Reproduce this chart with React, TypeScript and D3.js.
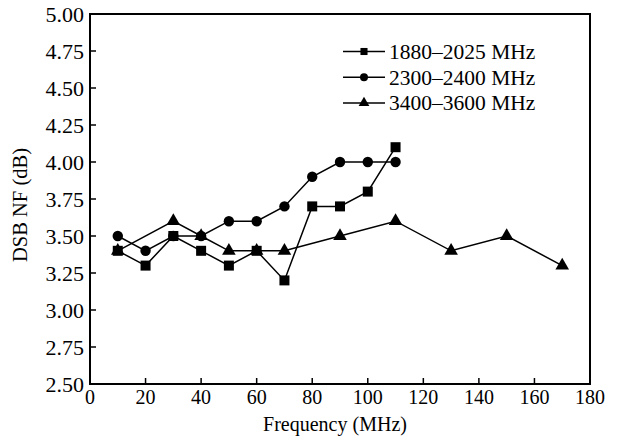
import React from "react";
import * as d3 from "d3";

const seriesNames = ["1880–2025 MHz", "2300–2400 MHz", "3400–3600 MHz"];
const xSquare = [10, 20, 30, 40, 50, 60, 70, 80, 90, 100, 110];
const ySquare = [3.4, 3.3, 3.5, 3.4, 3.3, 3.4, 3.2, 3.7, 3.7, 3.8, 4.1];
const xCircle = [10, 20, 30, 40, 50, 60, 70, 80, 90, 100, 110];
const yCircle = [3.5, 3.4, 3.5, 3.5, 3.6, 3.6, 3.7, 3.9, 4.0, 4.0, 4.0];
const xTriangle = [10, 30, 40, 50, 60, 70, 90, 110, 130, 150, 170];
const yTriangle = [3.4, 3.6, 3.5, 3.4, 3.4, 3.4, 3.5, 3.6, 3.4, 3.5, 3.3];
const xTicks = [0, 20, 40, 60, 80, 100, 120, 140, 160, 180];
const yTicks = [2.5, 2.75, 3.0, 3.25, 3.5, 3.75, 4.0, 4.25, 4.5, 4.75, 5.0];

const W = 617, H = 441;
const L = 90, R = 590, T = 14, B = 384;
const FONT = "'Liberation Serif', 'Times New Roman', serif";

export default function App() {
  const x = d3.scaleLinear().domain([0, 180]).range([L, R]);
  const y = d3.scaleLinear().domain([2.5, 5.0]).range([B, T]);
  const line = d3.line<[number, number]>().x(d => x(d[0])).y(d => y(d[1]));
  const sq = d3.symbol().type(d3.symbolSquare).size(100);
  const ci = d3.symbol().type(d3.symbolCircle).size(85);
  const tr = d3.symbol().type(d3.symbolTriangle).size(80);
  const sqL = d3.symbol().type(d3.symbolSquare).size(50);
  const ciL = d3.symbol().type(d3.symbolCircle).size(50);
  const trL = d3.symbol().type(d3.symbolTriangle).size(50);

  const series = [
    { xs: xSquare, ys: ySquare, sym: sq(), symL: sqL() },
    { xs: xCircle, ys: yCircle, sym: ci(), symL: ciL() },
    { xs: xTriangle, ys: yTriangle, sym: tr(), symL: trL() },
  ];

  return (
    <svg width={W} height={H} style={{ position: "absolute", left: 0, top: 0, background: "#fff" }}
      fontFamily={FONT}>
      <rect x={0} y={0} width={W} height={H} fill="#fff" />
      {yTicks.map(v => (
        <g key={"y" + v}>
          <line x1={L} x2={L + 6} y1={y(v)} y2={y(v)} stroke="#000" strokeWidth={1.5} />
          <text x={L - 6} y={y(v)} dy="0.35em" textAnchor="end" fontSize={22}>{v.toFixed(2)}</text>
        </g>
      ))}
      {xTicks.map(v => (
        <g key={"x" + v}>
          <line x1={x(v)} x2={x(v)} y1={B} y2={B - 6} stroke="#000" strokeWidth={1.5} />
          <text x={x(v)} y={B + 20} textAnchor="middle" fontSize={20}>{v}</text>
        </g>
      ))}
      {series.map((s, i) => {
        const pts: [number, number][] = s.xs.map((xv, j) => [xv, s.ys[j]]);
        return (
          <g key={"s" + i}>
            <path d={line(pts) || ""} fill="none" stroke="#000" strokeWidth={1.5} />
            {pts.map((p, j) => (
              <path key={j} d={s.sym || ""} transform={`translate(${x(p[0])},${y(p[1])})`} fill="#000" />
            ))}
          </g>
        );
      })}
      <rect x={L} y={T} width={R - L} height={B - T} fill="none" stroke="#000" strokeWidth={2} />
      {series.map((s, i) => {
        const ly = 51.5 + i * 25.7;
        return (
          <g key={"l" + i}>
            <line x1={343} x2={385} y1={ly} y2={ly} stroke="#000" strokeWidth={1.5} />
            <path d={s.symL || ""} transform={`translate(364,${ly})`} fill="#000" />
            <text x={389} y={ly} dy="0.35em" fontSize={21.5}>{seriesNames[i]}</text>
          </g>
        );
      })}
      <text x={335} y={431} textAnchor="middle" fontSize={20}>Frequency (MHz)</text>
      <text transform={`translate(27,205) rotate(-90)`} textAnchor="middle" fontSize={20.5}>DSB NF (dB)</text>
    </svg>
  );
}
